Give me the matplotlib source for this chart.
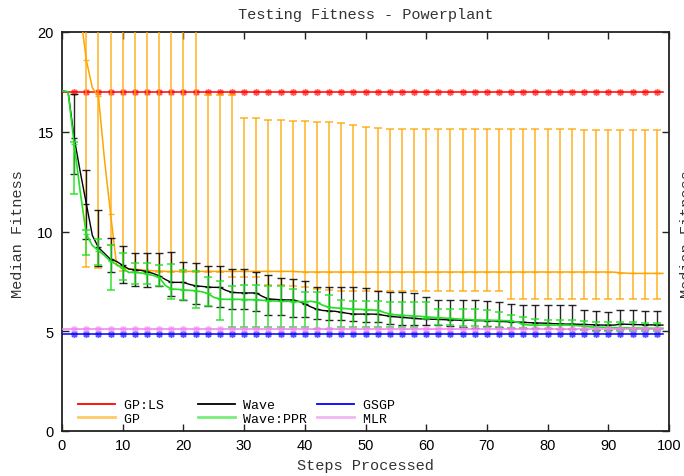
import numpy as np
import matplotlib.pyplot as plt
from matplotlib.lines import Line2D

# every step 0..99 for the median lines, error bars every 2nd step
steps = np.arange(0, 100)
bar_steps = np.arange(2, 100, 2)

gpls_level = 17.0
gsgp_level = 4.85
mlr_level = 5.1

gp_median = [26.0, 24.5, 23.0, 21.0, 18.6, 17.2, 16.8, 13.6, 10.9, 8.3,
             8.2, 8.12, 8.1, 8.08, 8.05, 8.03, 8.02, 8.0, 8.0, 8.0,
             8.0, 8.0, 8.0, 8.0, 8.0, 8.0, 8.0, 8.0, 8.0, 8.0,
             8.0, 8.0, 8.0, 8.0, 8.0, 8.0, 8.0, 8.0, 8.0, 7.98,
             7.97, 7.97, 7.97, 7.97, 7.97, 7.97, 7.97, 7.97, 7.97, 7.97,
             7.97, 7.97, 7.97, 7.97, 7.97, 7.97, 7.97, 7.97, 7.97, 7.97,
             7.97, 7.97, 7.97, 7.97, 7.97, 7.97, 7.97, 7.97, 7.97, 7.97,
             7.97, 7.97, 7.97, 7.97, 7.97, 7.97, 7.97, 7.97, 7.97, 7.97,
             7.97, 7.97, 7.97, 7.97, 7.97, 7.97, 7.97, 7.97, 7.97, 7.97,
             7.97, 7.96, 7.93, 7.91, 7.9, 7.9, 7.9, 7.9, 7.9, 7.9]
gp_lower = [20.5, 8.2, 8.15, 9.3, 8.0, 7.95, 7.95, 7.95, 7.95, 7.95,
            7.95, 7.95, 7.95, 7.7, 7.7, 7.7, 7.3, 7.3, 7.25, 7.2,
            7.1, 7.05, 7.0, 7.0, 7.0, 7.0, 7.0, 7.0, 7.0, 7.0,
            7.0, 7.0, 7.0, 7.0, 7.0, 7.0, 6.6, 6.6, 6.6, 6.6,
            6.6, 6.6, 6.6, 6.6, 6.6, 6.6, 6.6, 6.6, 6.6]
gp_upper = [30.0, 30.0, 30.0, 30.0, 30.0, 30.0, 30.0, 30.0, 30.0, 30.0,
            30.0, 16.85, 16.85, 16.85, 15.7, 15.7, 15.6, 15.6, 15.55, 15.55,
            15.5, 15.5, 15.45, 15.35, 15.25, 15.2, 15.15, 15.15, 15.15, 15.15,
            15.15, 15.15, 15.15, 15.15, 15.15, 15.15, 15.12, 15.12, 15.12, 15.12,
            15.12, 15.12, 15.1, 15.1, 15.1, 15.1, 15.1, 15.1, 15.1]

wave_median = [17.05, 17.0, 14.7, 13.0, 11.4, 9.8, 9.2, 8.9, 8.6, 8.5,
               8.3, 8.12, 8.08, 8.05, 7.99, 7.9, 7.78, 7.6, 7.45, 7.45,
               7.45, 7.35, 7.28, 7.25, 7.22, 7.2, 7.2, 7.05, 6.95, 6.93,
               6.92, 6.92, 6.92, 6.75, 6.62, 6.6, 6.58, 6.57, 6.57, 6.5,
               6.37, 6.22, 6.1, 6.04, 6.02, 6.0, 5.95, 5.9, 5.86, 5.86,
               5.86, 5.86, 5.85, 5.8, 5.75, 5.72, 5.7, 5.67, 5.65, 5.62,
               5.61, 5.6, 5.6, 5.58, 5.57, 5.56, 5.55, 5.55, 5.54, 5.53,
               5.53, 5.52, 5.5, 5.48, 5.47, 5.46, 5.45, 5.43, 5.42, 5.41,
               5.4, 5.38, 5.37, 5.36, 5.36, 5.35, 5.34, 5.33, 5.32, 5.31,
               5.31, 5.31, 5.36, 5.35, 5.34, 5.33, 5.32, 5.32, 5.31, 5.31]
wave_lower = [12.9, 9.6, 8.29, 7.99, 7.4, 7.25, 7.2, 7.25, 6.78, 6.57,
              6.37, 6.25, 6.2, 6.12, 6.1, 6.0, 5.81, 5.81, 5.73, 5.7,
              5.6, 5.58, 5.56, 5.5, 5.45, 5.45, 5.38, 5.31, 5.31, 5.3,
              5.31, 5.25, 5.2, 5.16, 5.25, 5.2, 5.15, 5.15, 5.15, 5.15,
              5.11, 5.11, 5.11, 5.08, 5.08, 5.11, 5.11, 5.11, 5.11]
wave_upper = [16.9, 13.1, 11.1, 9.66, 9.29, 8.92, 8.92, 8.92, 8.99, 8.45,
              8.42, 8.29, 8.25, 8.12, 8.1, 7.99, 7.82, 7.67, 7.62, 7.5,
              7.24, 7.23, 7.23, 7.23, 7.17, 7.03, 6.95, 6.95, 6.9, 6.7,
              6.58, 6.58, 6.58, 6.58, 6.5, 6.45, 6.37, 6.33, 6.33, 6.33,
              6.33, 6.33, 6.08, 6.03, 5.95, 6.08, 6.08, 6.0, 6.0]

ppr_median = [17.05, 17.0, 14.4, 12.0, 9.87, 9.3, 9.04, 8.8, 8.5, 8.35,
              8.15, 7.95, 7.95, 7.92, 7.87, 7.8, 7.7, 7.3, 7.12, 7.1,
              7.08, 7.05, 7.03, 6.98, 6.9, 6.7, 6.62, 6.6, 6.6, 6.6,
              6.59, 6.58, 6.58, 6.55, 6.53, 6.52, 6.5, 6.5, 6.49, 6.48,
              6.48, 6.5, 6.45, 6.3, 6.2, 6.17, 6.15, 6.13, 6.1, 6.1,
              6.08, 6.07, 6.05, 5.95, 5.86, 5.82, 5.8, 5.78, 5.76, 5.75,
              5.72, 5.7, 5.68, 5.66, 5.64, 5.62, 5.6, 5.58, 5.57, 5.56,
              5.56, 5.55, 5.54, 5.53, 5.53, 5.45, 5.35, 5.31, 5.31, 5.31,
              5.31, 5.31, 5.31, 5.31, 5.3, 5.28, 5.25, 5.22, 5.2, 5.2,
              5.19, 5.18, 5.18, 5.17, 5.16, 5.16, 5.15, 5.15, 5.15, 5.15]
ppr_lower = [11.9, 8.8, 8.3, 7.05, 7.55, 7.37, 7.37, 7.28, 6.62, 6.57,
             6.17, 6.25, 5.58, 5.23, 5.23, 5.23, 5.23, 5.23, 5.23, 5.23,
             5.11, 5.11, 5.2, 5.2, 5.2, 5.2, 5.2, 5.2, 5.2, 5.61,
             5.31, 5.31, 5.25, 5.25, 5.22, 5.2, 5.15, 5.15, 5.11, 5.11,
             5.11, 5.11, 5.08, 5.03, 5.03, 5.03, 5.03, 5.03, 5.03]
ppr_upper = [14.5, 10.1, 9.6, 9.3, 8.9, 8.4, 8.4, 8.32, 8.37, 8.09,
             8.0, 7.7, 7.53, 7.28, 7.3, 7.3, 7.28, 7.25, 7.12, 6.98,
             6.95, 6.82, 6.58, 6.53, 6.53, 6.53, 6.48, 6.48, 6.48, 6.48,
             6.12, 6.12, 6.12, 6.12, 6.07, 5.95, 5.81, 5.7, 5.61, 5.58,
             5.58, 5.58, 5.5, 5.45, 5.45, 5.45, 5.45, 5.43, 5.43]

labels = ["GP:LS", "GP", "Wave", "Wave:PPR", "GSGP", "MLR"]
colors = ["#ff0000", "#ffa500", "#000000", "#22e022", "#0000ff", "#ee82ee"]

mono = "Liberation Mono"
sans = "Liberation Sans"

fig = plt.figure(figsize=(6.84, 4.77), dpi=100)
ax = fig.add_axes([62 / 684, 1 - 432 / 477, 607 / 684, 399 / 477])


def flat_series(level, color):
    vals = np.full(len(steps), level)
    ax.plot(steps, vals, color=color, lw=1.1, zorder=3)
    ax.plot(bar_steps, vals[bar_steps], ls="none", marker=(8, 2, 0),
            ms=5, mew=1.0, color=color, alpha=0.65, zorder=3)


def bar_series(median, lower, upper, color, lw=1.0):
    median = np.asarray(median)
    lower = np.asarray(lower)
    upper = np.asarray(upper)
    mid = median[bar_steps]
    ax.plot(steps, median, color=color, lw=lw, zorder=3)
    ax.errorbar(bar_steps, mid, yerr=[mid - lower, upper - mid], fmt="none",
                ecolor=color, elinewidth=lw, capsize=2.6, capthick=lw,
                alpha=0.85, zorder=3)
    ax.plot(bar_steps, mid, ls="none", marker="_", ms=5, mew=1.0,
            color=color, alpha=0.85, zorder=3)


flat_series(gpls_level, colors[0])
bar_series(gp_median, gp_lower, gp_upper, colors[1], lw=1.1)
bar_series(wave_median, wave_lower, wave_upper, colors[2])
bar_series(ppr_median, ppr_lower, ppr_upper, colors[3], lw=1.2)
flat_series(gsgp_level, colors[4])
flat_series(mlr_level, colors[5])

ax.set_xlim(0, 100)
ax.set_ylim(0, 20)
ax.set_xticks(np.arange(0, 101, 10))
ax.set_yticks(np.arange(0, 21, 5))
ax.tick_params(direction="in", length=5, width=1, top=True, right=True,
               labelsize=10.5, colors="#222222")
ax.tick_params(axis="x", pad=5)
ax.tick_params(axis="y", pad=6)
for lab in ax.get_xticklabels() + ax.get_yticklabels():
    lab.set_family(sans)
    lab.set_color("black")
for sp in ax.spines.values():
    sp.set_linewidth(1.3)
    sp.set_color("#222222")

fig.text(365.5 / 684, 1 - 15 / 477, "Testing Fitness - Powerplant",
         ha="center", va="center", family=mono, fontsize=11, color="#333333")
fig.text(365.5 / 684, 1 - 466 / 477, "Steps Processed",
         ha="center", va="center", family=mono, fontsize=11, color="#333333")
fig.text(18 / 684, 1 - 234 / 477, "Median Fitness", rotation=90,
         ha="center", va="center", family=mono, fontsize=11, color="#333333")
# the reference shows the mirrored y label cut off at the right edge
fig.text(680 / 684, 1 - 234 / 477, "Median Fitness", rotation=90,
         ha="left", va="center", family=mono, fontsize=11, color="#333333")

legend_alpha = [1.0, 0.6, 1.0, 0.6, 1.0, 0.6]
handles = [Line2D([], [], color=c, lw=2 if a < 1 else 1.3, alpha=a)
           for c, a in zip(colors, legend_alpha)]
padded = [s.ljust(8) for s in labels]
ax.legend(handles, padded, loc="lower left", bbox_to_anchor=(0.0264, 0.0155),
          ncol=3, frameon=False, borderpad=0, borderaxespad=0,
          handlelength=2.8, handletextpad=0.68, columnspacing=0.73,
          labelspacing=0.1, prop={"family": mono, "size": 9.5})

fig.savefig("out.png", dpi=100)
